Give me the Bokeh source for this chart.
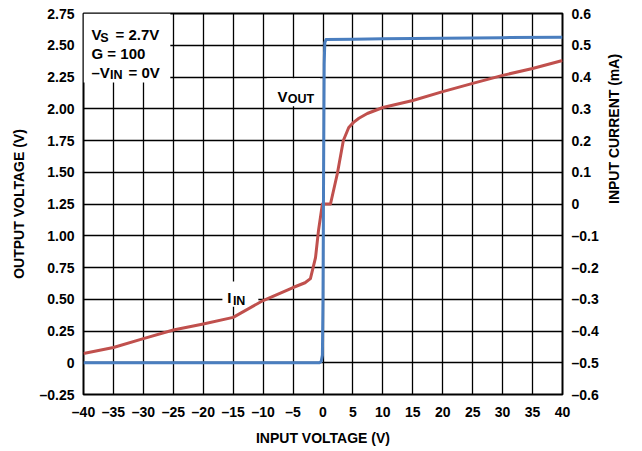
import math
from bokeh.plotting import figure
from bokeh.models import (Range1d, LinearAxis, FixedTicker, Label, BoxAnnotation)
from bokeh.embed import file_html
from bokeh.resources import INLINE

# ---------------- data ----------------
vin_out = [-40, -20, -0.6, -0.3, -0.1, 0.0, 0.1, 0.2, 0.3, 0.5, 5, 10, 20, 30, 40]
vout = [0.0, 0.0, 0.0, 0.01, 0.06, 0.5, 1.5, 2.35, 2.52, 2.545, 2.548, 2.552, 2.556, 2.56, 2.563]

vin_in = [-40, -35, -30, -25, -20, -15, -10, -5, -3, -2.1, -1.25, -0.75, -0.1,
          1.25, 2.4, 3.4, 4.3, 5.1, 6.0, 7.4, 10, 15, 20, 25, 30, 35, 40]
iin = [-0.471, -0.452, -0.424, -0.397, -0.378, -0.357, -0.304, -0.263, -0.248, -0.235,
       -0.169, -0.083, 0.0, 0.0, 0.096, 0.2, 0.241, 0.257, 0.270, 0.285, 0.304, 0.326,
       0.354, 0.38, 0.405, 0.427, 0.452]

x_ticks = [-40, -35, -30, -25, -20, -15, -10, -5, 0, 5, 10, 15, 20, 25, 30, 35, 40]
x_tick_labels = ["\u201340", "\u201335", "\u201330", "\u201325", "\u201320", "\u201315",
                 "\u201310", "\u20135", "0", "5", "10", "15", "20", "25", "30", "35", "40"]
y_ticks = [-0.25, 0.0, 0.25, 0.5, 0.75, 1.0, 1.25, 1.5, 1.75, 2.0, 2.25, 2.5, 2.75]
y_tick_labels = ["\u20130.25", "0", "0.25", "0.50", "0.75", "1.00", "1.25", "1.50",
                 "1.75", "2.00", "2.25", "2.50", "2.75"]
r_ticks = [-0.6, -0.5, -0.4, -0.3, -0.2, -0.1, 0.0, 0.1, 0.2, 0.3, 0.4, 0.5, 0.6]
r_tick_labels = ["\u20130.6", "\u20130.5", "\u20130.4", "\u20130.3", "\u20130.2", "\u20130.1",
                 "0", "0.1", "0.2", "0.3", "0.4", "0.5", "0.6"]

FONT = "Liberation Sans"
BLUE = "#4a7ebf"
RED = "#c0504d"

p = figure(frame_width=479, frame_height=381, x_range=Range1d(-40, 40),
           y_range=Range1d(-0.25, 2.75), output_backend="svg", toolbar_location=None,
           min_border_left=83, min_border_top=13, min_border_right=78, min_border_bottom=52,
           x_axis_label="INPUT VOLTAGE (V)", y_axis_label="OUTPUT VOLTAGE (V)")
p.extra_y_ranges = {"cur": Range1d(-0.6, 0.6)}

p.outline_line_color = "black"
p.outline_line_width = 2
p.background_fill_color = "white"
p.border_fill_color = "white"

raxis = LinearAxis(y_range_name="cur", axis_label="INPUT CURRENT (mA)")
p.add_layout(raxis, "right")

p.xaxis.ticker = FixedTicker(ticks=x_ticks)
p.xaxis.major_label_overrides = dict(zip(x_ticks, x_tick_labels))
p.yaxis[0].ticker = FixedTicker(ticks=y_ticks)
p.yaxis[0].major_label_overrides = dict(zip(y_ticks, y_tick_labels))
raxis.ticker = FixedTicker(ticks=r_ticks)
raxis.major_label_overrides = dict(zip(r_ticks, r_tick_labels))

for ax in [p.xaxis[0], p.yaxis[0], raxis]:
    ax.axis_line_color = None
    ax.major_tick_line_color = None
    ax.minor_tick_line_color = None
    ax.major_tick_out = 0
    ax.major_tick_in = 0
    ax.major_label_text_font = FONT
    ax.major_label_text_font_style = "bold"
    ax.major_label_text_font_size = "14px"
    ax.major_label_text_color = "black"
    ax.axis_label_text_font = FONT
    ax.axis_label_text_font_style = "bold"
    ax.axis_label_text_font_size = "14px"
    ax.axis_label_text_color = "black"
    ax.major_label_standoff = 9
p.xaxis[0].axis_label_standoff = 7
p.yaxis[0].axis_label_standoff = 9
raxis.axis_label_standoff = 12
raxis.axis_label_orientation = math.pi / 2

p.xgrid.ticker = FixedTicker(ticks=x_ticks)
p.ygrid.ticker = FixedTicker(ticks=y_ticks)
for g in [p.xgrid[0], p.ygrid[0]]:
    g.grid_line_color = "black"
    g.grid_line_width = 1.3
    g.grid_line_alpha = 1.0

p.line(vin_in, iin, y_range_name="cur", line_color=RED, line_width=3, line_join="round")
p.line(vin_out, vout, line_color=BLUE, line_width=3, line_join="round")

# white label backgrounds (drawn above the grid, below the curves)
for (l, r, b, t) in [(-40, -25.5, 2.207, 2.75), (-9.4, -0.5, 2.02, 2.24), (-16.8, -10.8, 0.44, 0.64)]:
    p.add_layout(BoxAnnotation(left=l, right=r, bottom=b, top=t, fill_color="white",
                               fill_alpha=1.0, line_color=None, level="underlay"))


def txt(x, y, s, size):
    p.add_layout(Label(x=x, y=y, text=s, text_font=FONT, text_font_style="bold",
                       text_font_size=size, text_color="black", text_align="left",
                       text_baseline="alphabetic"))


MAIN = "15px"
SUB = "12.5px"
# V_S = 2.7V
txt(-38.66, 2.585, "V", MAIN)
txt(-37.2, 2.561, "S", SUB)
txt(-34.66, 2.585, "= 2.7V", MAIN)
# G = 100
txt(-38.66, 2.436, "G = 100", MAIN)
# -V_IN = 0V
txt(-38.66, 2.287, "\u2013V", MAIN)
txt(-35.57, 2.263, "IN", SUB)
txt(-32.48, 2.287, "= 0V", MAIN)
# V_OUT
txt(-7.6, 2.096, "V", MAIN)
txt(-5.9, 2.073, "OUT", SUB)
# I_IN
txt(-16.0, 0.514, "I", MAIN)
txt(-15.05, 0.49, "IN", SUB)

open("out.html", "w").write(file_html(p, INLINE))
